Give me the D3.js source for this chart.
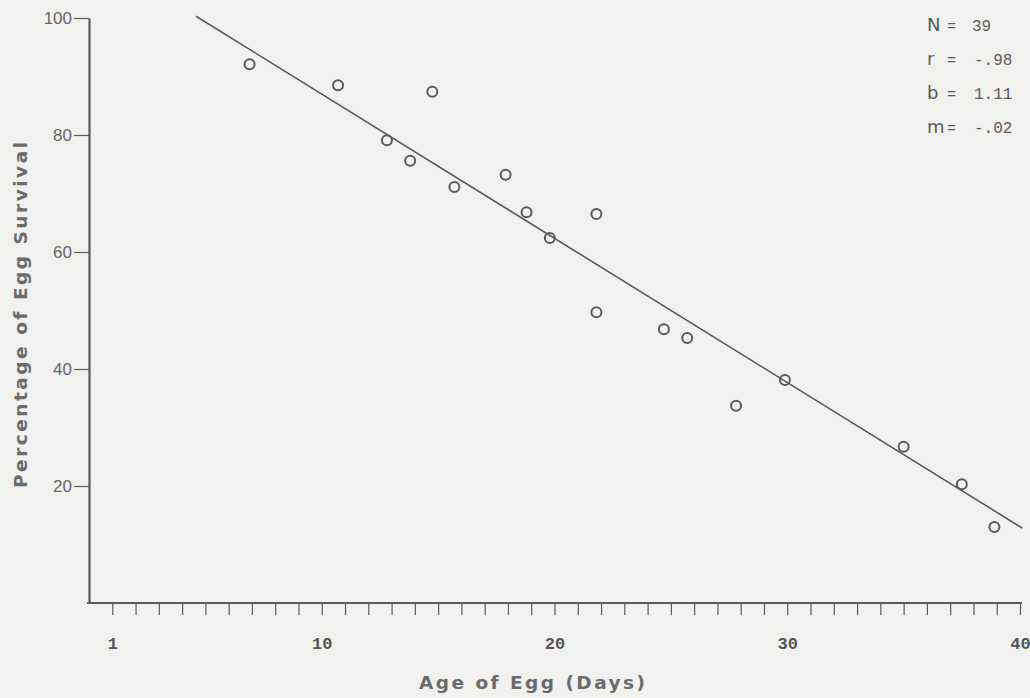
<!DOCTYPE html>
<html>
<head>
<meta charset="utf-8">
<script src="https://cdn.jsdelivr.net/npm/d3@7"></script>
<style>
  body { margin: 0; background: #f1f1f0; }
  svg { display: block; }
</style>
</head>
<body>
<div id="chart"></div>
<script>
// egg age (days) vs percentage surviving
var days     = [6.9, 10.7, 14.75, 12.8, 13.8, 15.7, 17.9, 18.8, 19.8, 21.8, 21.8, 24.7, 25.7, 27.8, 29.9, 35.0, 37.5, 38.9];
var survival = [92.1, 88.5, 87.4, 79.1, 75.6, 71.1, 73.2, 66.8, 62.4, 66.5, 49.7, 46.8, 45.3, 33.7, 38.1, 26.7, 20.3, 13.0];

// fitted line end points
var fitDays = [4.6, 40.1];
var fitPct  = [100.3, 12.8];

var yTicks = [20, 40, 60, 80, 100];
var xTicks = d3.range(1, 41);
var xLabels = [1, 10, 20, 30, 40];

var statSyms = ["N", "r", "b", "m"];
var statVals = ["39", "-.98", "1.11", "-.02"];

var width = 1030, height = 698;
var ink = "#5a5a5a";

var svg = d3.select("#chart").append("svg")
  .attr("width", width)
  .attr("height", height);

var x = d3.scaleLinear().domain([0, 40]).range([89, 1020]);
var y = d3.scaleLinear().domain([0, 100]).range([603, 18]);

// y axis
var yAxis = svg.append("g")
  .attr("transform", "translate(" + x(0) + ",0)")
  .call(d3.axisLeft(y).tickValues(yTicks).tickSize(15).tickSizeOuter(0).tickPadding(2));
yAxis.select(".domain").attr("stroke", ink).attr("stroke-width", 2.2);
yAxis.selectAll(".tick line").attr("stroke", ink).attr("stroke-width", 1.2);
yAxis.selectAll(".tick text")
  .attr("fill", "#666")
  .style("font-family", "'Liberation Sans', sans-serif")
  .style("font-size", "17px");

// x axis, a tick for every day
var xAxis = svg.append("g")
  .attr("transform", "translate(0," + y(0) + ")")
  .call(d3.axisBottom(x).tickValues(xTicks).tickSize(12).tickSizeOuter(0).tickPadding(22)
    .tickFormat(d => xLabels.indexOf(d) >= 0 ? d : ""));
xAxis.select(".domain").attr("stroke", ink).attr("stroke-width", 2.2)
  .attr("d", "M" + (x(0) - 2) + ",0H" + (x(40) + 2));
xAxis.selectAll(".tick line").attr("stroke", ink).attr("stroke-width", 1.2);
xAxis.selectAll(".tick text")
  .attr("fill", "#555")
  .style("font-family", "'Liberation Mono', monospace")
  .style("font-weight", "bold")
  .style("font-size", "17px");

// fitted line
var fit = fitDays.map((d, i) => ({ day: d, pct: fitPct[i] }));
svg.append("path")
  .datum(fit)
  .attr("fill", "none")
  .attr("stroke", ink)
  .attr("stroke-width", 1.6)
  .attr("d", d3.line().x(d => x(d.day)).y(d => y(d.pct)));

// observations
var points = days.map((d, i) => ({ day: d, pct: survival[i] }));
svg.append("g")
  .selectAll("circle")
  .data(points)
  .enter()
  .append("circle")
  .attr("cx", d => x(d.day))
  .attr("cy", d => y(d.pct))
  .attr("r", 5)
  .attr("fill", "none")
  .attr("stroke", ink)
  .attr("stroke-width", 2);

// axis titles
svg.append("text")
  .attr("transform", "translate(27,315) rotate(-90)")
  .attr("text-anchor", "middle")
  .attr("fill", "#6b6b6b")
  .attr("textLength", 346)
  .attr("lengthAdjust", "spacing")
  .style("font-family", "'DejaVu Sans', sans-serif")
  .style("font-weight", "bold")
  .style("font-size", "18.5px")
  .text("Percentage of Egg Survival");

svg.append("text")
  .attr("x", 532)
  .attr("y", 689)
  .attr("text-anchor", "middle")
  .attr("fill", "#6b6b6b")
  .attr("textLength", 226)
  .attr("lengthAdjust", "spacing")
  .style("font-family", "'DejaVu Sans', sans-serif")
  .style("font-weight", "bold")
  .style("font-size", "18.5px")
  .text("Age of Egg (Days)");

// statistics box
var st = svg.append("g").selectAll("g")
  .data(statSyms)
  .enter()
  .append("g")
  .attr("transform", (d, i) => "translate(927," + (31 + i * 34) + ")")
  .attr("fill", ink);
st.append("text")
  .style("font-family", "'DejaVu Sans', sans-serif")
  .style("font-size", "18px")
  .text(d => d);
st.append("text")
  .attr("x", 20)
  .style("font-family", "'Liberation Mono', monospace")
  .style("font-size", "15px")
  .text("=");
st.append("text")
  .attr("x", (d, i) => i === 0 ? 45 : 47)
  .style("font-family", "'Liberation Mono', monospace")
  .style("font-size", "16px")
  .text((d, i) => statVals[i]);
</script>
</body>
</html>
